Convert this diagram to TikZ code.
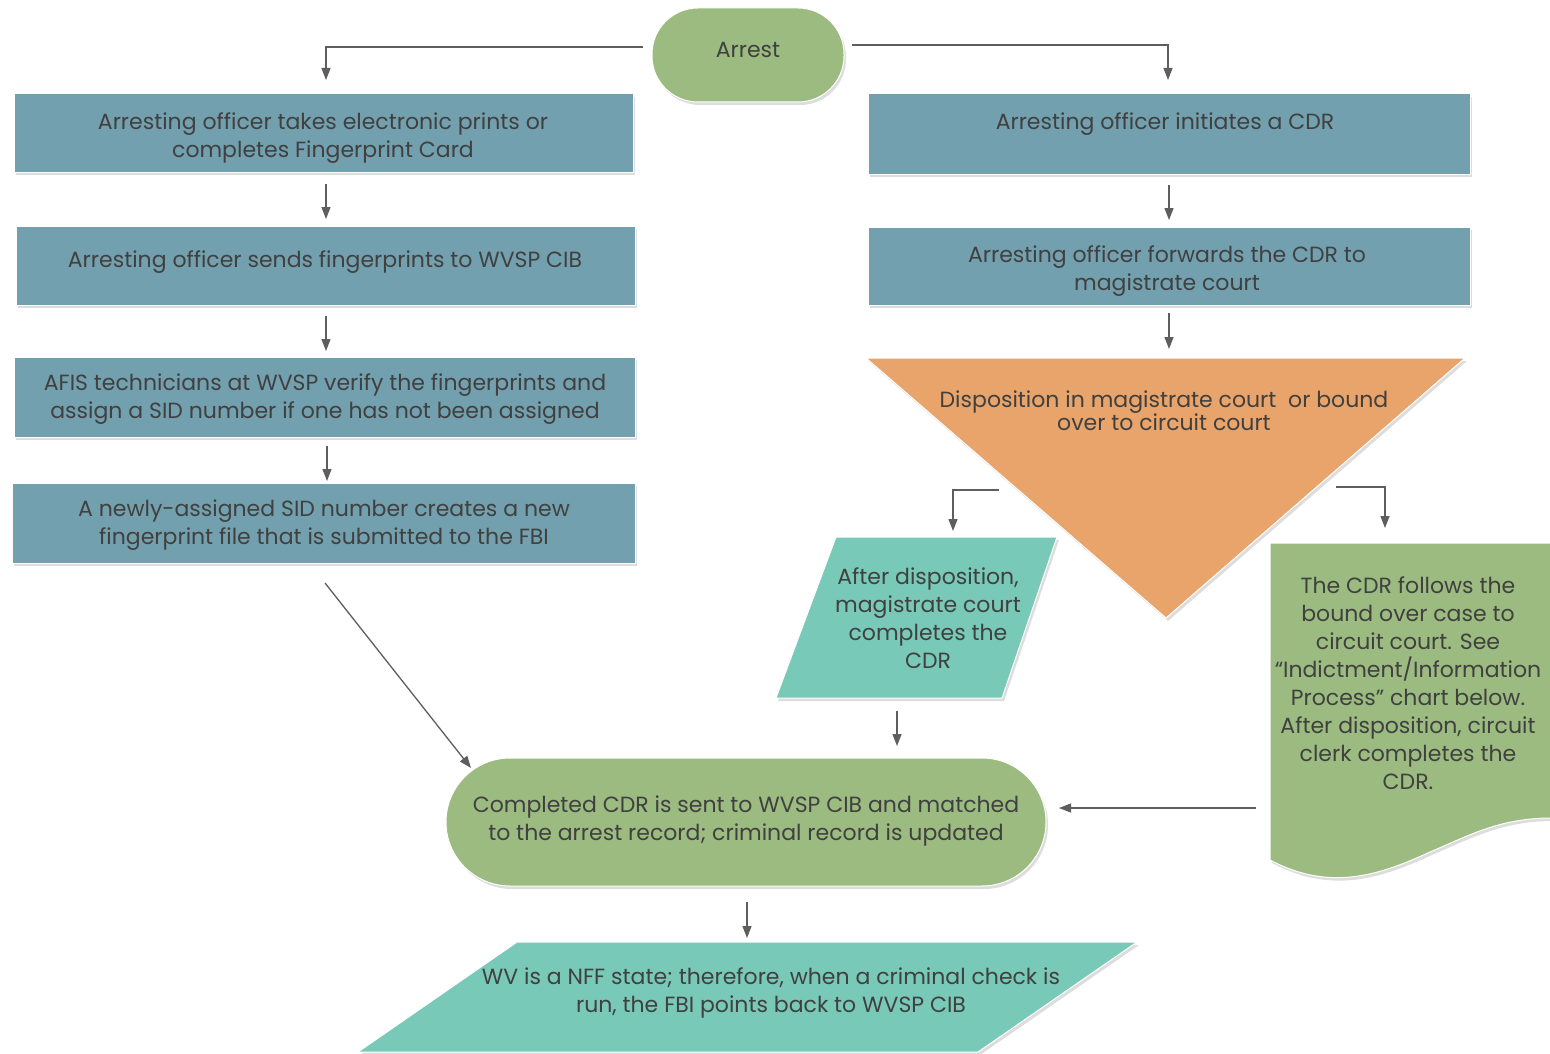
\documentclass[tikz,border=0pt]{standalone}
\usepackage{fontspec}
\setmainfont{Poppins}
\usetikzlibrary{arrows.meta,shadows}
\definecolor{boxblue}{HTML}{73A0AE}
\definecolor{boxgreen}{HTML}{9BBB80}
\definecolor{boxorange}{HTML}{E8A46A}
\definecolor{boxteal}{HTML}{79C9B8}
\definecolor{linegrey}{HTML}{5E5E5E}
\definecolor{txt}{HTML}{404040}
\tikzset{
  shd/.style={drop shadow={shadow xshift=2pt,shadow yshift=-3pt,opacity=0.22,fill=black!60}},
  bluebox/.style={draw=white,line width=1pt,fill=boxblue,shd},
  lbl/.style={text=txt,font=\fontsize{22}{28}\selectfont,align=center,inner sep=0pt,yshift=-3pt},
  conn/.style={draw=linegrey,line width=1.3pt,-{Triangle[length=12pt,width=9pt]}},
}
\begin{document}
\begin{tikzpicture}[x=1pt,y=-1pt]
\useasboundingbox (0,0) rectangle (1550,1054);
\fill[white] (0,0) rectangle (1550,1054);

% Arrest
\node[draw=white,line width=1pt,fill=boxgreen,shd,rounded corners=46pt,minimum width=192pt,minimum height=94pt,anchor=center] (arrest) at (748,55) {};
\node[lbl] (arrestT) at (748,47) {Arrest};

% Left column boxes
\path[bluebox] (14,94) rectangle (633,172);
\node[lbl] (l1) at (323,135) {Arresting officer takes electronic prints or\\completes Fingerprint Card};
\path[bluebox] (16,226) rectangle (635,305);
\node[lbl] (l2) at (325,259) {Arresting officer sends fingerprints to WVSP CIB};
\path[bluebox] (14,357) rectangle (635,437);
\node[lbl] (l3) at (325,396) {AFIS technicians at WVSP verify the fingerprints and\\assign a SID number if one has not been assigned};
\path[bluebox] (12,483) rectangle (635,563);
\node[lbl] (l4) at (324,522) {A newly-assigned SID number creates a new\\fingerprint file that is submitted to the FBI};

% Right column boxes
\path[bluebox] (868,94) rectangle (1470,174);
\node[lbl] (r1) at (1165,121) {Arresting officer initiates a CDR};
\path[bluebox] (868,227) rectangle (1470,305);
\node[lbl] (r2) at (1167,268) {Arresting officer forwards the CDR to\\magistrate court};

% Triangle
\path[draw=white,line width=1pt,fill=boxorange,shd] (866,358) -- (1465,358) -- (1166,618) -- cycle;
\node[lbl,font=\fontsize{22}{23}\selectfont] (tri) at (1164,408) {Disposition in magistrate court\ \ or bound\\over to circuit court};

% Parallelogram (magistrate)
\path[draw=white,line width=1pt,fill=boxteal,shd] (836,537) -- (1057,537) -- (1002,698) -- (776,698) -- cycle;
\node[lbl] (mag) at (928,615) {After disposition,\\magistrate court\\completes the\\CDR};

% Document shape
\path[draw=white,line width=1pt,fill=boxgreen,shd] (1270,543) -- (1552,543) -- (1552,818)
  .. controls (1500,818) and (1470,835) .. (1430,852)
  .. controls (1380,875) and (1330,892) .. (1270,860) -- cycle;
\node[lbl] (doc) at (1408,680) {The CDR follows the\\bound over case to\\circuit court. See\\``Indictment/Information\\Process'' chart below.\\After disposition, circuit\\clerk completes the\\CDR.};

% Completed CDR
\node[draw=white,line width=1pt,fill=boxgreen,shd,rounded corners=64pt,minimum width=600pt,minimum height=128pt,anchor=center] (done) at (746,822) {};
\node[lbl] (doneT) at (746,818) {Completed CDR is sent to WVSP CIB and matched\\to the arrest record; criminal record is updated};

% Bottom parallelogram
\path[draw=white,line width=1pt,fill=boxteal,shd] (517,942) -- (1137,942) -- (978,1052) -- (358,1052) -- cycle;
\node[lbl] (nff) at (771,990) {WV is a NFF state; therefore, when a criminal check is\\run, the FBI points back to WVSP CIB};

% connector coordinates
\coordinate (a1) at (643,47);
\coordinate (a1c) at (326,47);
\coordinate (a1e) at (326,80);
\coordinate (a2) at (852,45);
\coordinate (a2c) at (1168,45);
\coordinate (a2e) at (1168,80);
\coordinate (b1s) at (326,184); \coordinate (b1e) at (326,219);
\coordinate (b2s) at (326,316); \coordinate (b2e) at (326,351);
\coordinate (b3s) at (327,446); \coordinate (b3e) at (327,481);
\coordinate (c1s) at (1169,185); \coordinate (c1e) at (1169,220);
\coordinate (c2s) at (1169,313); \coordinate (c2e) at (1169,349);
\coordinate (d1s) at (999,490); \coordinate (d1c) at (953,490); \coordinate (d1e) at (953,531);
\coordinate (d2s) at (1336,487); \coordinate (d2c) at (1385,487); \coordinate (d2e) at (1385,528);
\coordinate (e1s) at (897,711); \coordinate (e1e) at (897,746);
\coordinate (e2s) at (1256,808); \coordinate (e2e) at (1059,808);
\coordinate (e3s) at (325,583); \coordinate (e3e) at (471,768);
\coordinate (f1s) at (747,902); \coordinate (f1e) at (747,938);

\draw[conn] (a1) -- (a1c) -- (a1e);
\draw[conn] (a2) -- (a2c) -- (a2e);
\draw[conn] (b1s) -- (b1e);
\draw[conn] (b2s) -- (b2e);
\draw[conn] (b3s) -- (b3e);
\draw[conn] (c1s) -- (c1e);
\draw[conn] (c2s) -- (c2e);
\draw[conn] (d1s) -- (d1c) -- (d1e);
\draw[conn] (d2s) -- (d2c) -- (d2e);
\draw[conn] (e1s) -- (e1e);
\draw[conn] (e2s) -- (e2e);
\draw[conn] (e3s) -- (e3e);
\draw[conn] (f1s) -- (f1e);
\end{tikzpicture}
\end{document}
